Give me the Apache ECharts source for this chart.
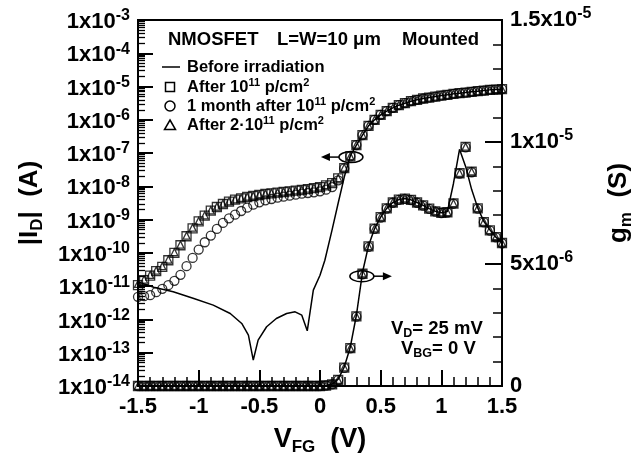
<!DOCTYPE html>
<html><head><meta charset="utf-8">
<script src="https://cdn.jsdelivr.net/npm/echarts@6/dist/echarts.min.js"></script>
<style>html,body{margin:0;padding:0;background:#fff}#c{width:639px;height:454px}</style>
</head><body><div id="c"></div>
<script>
// ---------- DATA ----------
// Front-gate voltage grid of the measured points (V)
const vfg = [-1.5,-1.45,-1.4,-1.35,-1.3,-1.25,-1.2,-1.15,-1.1,-1.05,-1,-0.95,-0.9,-0.85,-0.8,-0.75,-0.7,-0.65,-0.6,-0.55,-0.5,-0.45,-0.4,-0.35,-0.3,-0.25,-0.2,-0.15,-0.1,-0.05,0,0.05,0.1,0.15,0.2,0.25,0.3,0.35,0.4,0.45,0.5,0.55,0.6,0.65,0.7,0.75,0.8,0.85,0.9,0.95,1,1.05,1.1,1.15,1.2,1.25,1.3,1.35,1.4,1.45,1.5];

// log10(|ID| / A)
const idAfter1 = [-10.97,-10.82,-10.68,-10.55,-10.42,-10.22,-10.00,-9.77,-9.50,-9.26,-9.05,-8.88,-8.73,-8.62,-8.53,-8.46,-8.40,-8.36,-8.32,-8.29,-8.26,-8.23,-8.21,-8.19,-8.17,-8.15,-8.13,-8.11,-8.08,-8.05,-8.02,-7.97,-7.90,-7.76,-7.45,-7.10,-6.76,-6.46,-6.18,-6.00,-5.85,-5.74,-5.64,-5.56,-5.50,-5.44,-5.40,-5.36,-5.33,-5.30,-5.27,-5.25,-5.22,-5.20,-5.18,-5.16,-5.14,-5.12,-5.10,-5.09,-5.08];
const idMonth = [-11.32,-11.30,-11.27,-11.18,-11.08,-10.97,-10.84,-10.66,-10.40,-10.15,-9.90,-9.68,-9.48,-9.28,-9.10,-8.96,-8.85,-8.74,-8.64,-8.55,-8.48,-8.42,-8.38,-8.34,-8.31,-8.28,-8.25,-8.22,-8.20,-8.18,-8.15,-8.10,-8.02,-7.82,-7.46,-7.10,-6.76,-6.46,-6.18,-6.00,-5.85,-5.74,-5.64,-5.56,-5.50,-5.44,-5.40,-5.36,-5.33,-5.30,-5.27,-5.25,-5.22,-5.20,-5.18,-5.16,-5.14,-5.12,-5.10,-5.09,-5.08];
const idAfter2 = [-10.93,-10.80,-10.66,-10.53,-10.40,-10.20,-9.98,-9.75,-9.48,-9.24,-9.04,-8.87,-8.72,-8.61,-8.52,-8.45,-8.39,-8.35,-8.31,-8.28,-8.25,-8.22,-8.20,-8.18,-8.16,-8.14,-8.12,-8.10,-8.07,-8.04,-8.01,-7.96,-7.89,-7.75,-7.44,-7.09,-6.75,-6.45,-6.17,-6.00,-5.85,-5.74,-5.64,-5.56,-5.50,-5.44,-5.40,-5.36,-5.33,-5.30,-5.27,-5.25,-5.22,-5.20,-5.18,-5.16,-5.14,-5.12,-5.10,-5.09,-5.08];

// Before irradiation |ID| (continuous line)
const vfgBefore = [-1.5,-1.37,-1.21,-1.04,-0.88,-0.74,-0.645,-0.59,-0.55,-0.51,-0.44,-0.36,-0.275,-0.205,-0.15,-0.105,-0.055,0,0.04,0.1,0.15,0.2,0.25,0.3,0.35,0.4,0.45,0.5,0.55,0.6,0.65,0.7,0.75,0.8,0.85,0.9,0.95,1,1.05,1.1,1.15,1.2,1.25,1.3,1.35,1.4,1.45,1.5];
const idBefore = [-10.87,-11.03,-11.17,-11.37,-11.57,-11.82,-12.12,-12.47,-13.22,-12.62,-12.22,-11.97,-11.82,-11.77,-11.87,-12.34,-11.12,-10.67,-10.22,-9.30,-8.50,-7.72,-7.08,-6.76,-6.46,-6.18,-6.00,-5.85,-5.74,-5.64,-5.56,-5.50,-5.44,-5.40,-5.36,-5.33,-5.30,-5.27,-5.25,-5.22,-5.20,-5.18,-5.16,-5.14,-5.12,-5.10,-5.09,-5.08];

// gm in units of 1e-6 S
const gmBefore = [0,0,0,0,0,0,0,0,0,0,0,0,0,0,0,0,0,0,0,0,0,0,0,0,0,0,0,0,0,0,0,0.02,0.08,0.28,0.78,1.6,2.9,4.65,5.75,6.45,6.92,7.28,7.52,7.64,7.68,7.63,7.52,7.40,7.27,7.16,7.10,7.15,8.30,9.70,9.00,8.05,7.30,6.75,6.40,6.10,5.86];
const gmAfter1 = [0,0,0,0,0,0,0,0,0,0,0,0,0,0,0,0,0,0,0,0,0,0,0,0,0,0,0,0,0,0,0,0.02,0.07,0.25,0.75,1.55,2.85,4.60,5.72,6.45,6.92,7.28,7.52,7.64,7.68,7.63,7.52,7.40,7.27,7.16,7.10,7.12,7.48,8.72,9.80,8.78,7.28,6.72,6.38,6.10,5.86];
const gmMonth = [0,0,0,0,0,0,0,0,0,0,0,0,0,0,0,0,0,0,0,0,0,0,0,0,0,0,0,0,0,0,0,0.02,0.07,0.24,0.74,1.54,2.84,4.58,5.70,6.44,6.90,7.27,7.51,7.63,7.67,7.62,7.51,7.39,7.26,7.15,7.09,7.11,7.47,8.70,9.78,8.76,7.27,6.71,6.37,6.09,5.85];
const gmAfter2 = [0,0,0,0,0,0,0,0,0,0,0,0,0,0,0,0,0,0,0,0,0,0,0,0,0,0,0,0,0,0,0,0.02,0.07,0.25,0.76,1.56,2.86,4.61,5.73,6.46,6.93,7.29,7.53,7.65,7.69,7.64,7.53,7.41,7.28,7.17,7.11,7.13,7.49,8.73,9.81,8.79,7.29,6.73,6.39,6.11,5.87];

// Axis tick labels
const leftExps = [-14,-13,-12,-11,-10,-9,-8,-7,-6,-5,-4,-3];
const rightTickLabels = {0:'0', 5:['5x10','-6'], 10:['1x10','-5'], 15:['1.5x10','-5']};

// ---------- CHART ----------
const FONT = '"Liberation Sans", Arial, Helvetica, sans-serif';
const pairs = (xs, ys) => xs.map((x, i) => [x, ys[i]]);
const minorLog = [];
for (let n = -14; n < -3; n++) for (let k = 2; k <= 9; k++) minorLog.push(n + Math.log10(k));

const supRich = (main, sup) => ({
  b: {fontSize: main, fontWeight: 'bold', fontFamily: FONT, color: '#000', lineHeight: 28},
  s: {fontSize: sup, fontWeight: 'bold', fontFamily: FONT, color: '#000', verticalAlign: 'top', lineHeight: sup}
});
const nameStyle = (size, sub) => ({
  fontSize: size, fontWeight: 'bold', fontFamily: FONT, color: '#000', lineHeight: size + 6,
  rich: {sub: {fontSize: sub, fontWeight: 'bold', fontFamily: FONT, color: '#000', verticalAlign: 'bottom', lineHeight: sub}}
});

const hollow = {color: 'rgba(255,255,255,0)', borderColor: '#000', borderWidth: 1.3};
const G = {left: 138, right: 137, top: 20, bottom: 68, outerBoundsMode: 'none', containLabel: false};

const chart = echarts.init(document.getElementById('c'));
chart.setOption({
  animation: false,
  backgroundColor: '#fff',
  grid: [Object.assign({show: true, borderColor: '#000', borderWidth: 2, backgroundColor: 'transparent'}, G), Object.assign({}, G)],
  xAxis: [{
    gridIndex: 0, type: 'value', min: -1.5, max: 1.5, interval: 0.5,
    axisLine: {show: true, onZero: false, lineStyle: {color: '#000', width: 2}},
    axisTick: {show: true, inside: true, length: 16, lineStyle: {color: '#000', width: 2}},
    minorTick: {show: true, splitNumber: 5, length: 9, lineStyle: {color: '#000', width: 1.5}},
    splitLine: {show: false},
    axisLabel: {margin: 10, color: '#000', fontSize: 22, fontWeight: 'bold', fontFamily: FONT},
    name: 'V{sub|FG}  (V)', nameLocation: 'middle', nameGap: 37, nameTextStyle: nameStyle(27, 17)
  }, {gridIndex: 1, type: 'value', min: -1.5, max: 1.5, show: false, axisLine: {onZero: false}}],
  yAxis: [{
    gridIndex: 0, type: 'value', min: -14, max: -3, interval: 1, position: 'left',
    axisLine: {show: true, onZero: false, lineStyle: {color: '#000', width: 2}},
    axisTick: {show: true, inside: true, length: 15, lineStyle: {color: '#000', width: 2}},
    splitLine: {show: false},
    axisLabel: {margin: 8, padding: [4, 0, 0, 0], formatter: v => '{b|1x10}{s|' + Math.round(v) + '}', rich: supRich(22, 16)},
    name: '|I{sub|D}|  (A)', nameLocation: 'middle', nameGap: 92, nameTextStyle: nameStyle(26, 17)
  }, {
    gridIndex: 0, type: 'value', min: 0, max: 15, interval: 5, position: 'right',
    axisLine: {show: true, onZero: false, lineStyle: {color: '#000', width: 2}},
    axisTick: {show: true, inside: true, length: 17, lineStyle: {color: '#000', width: 2}},
    minorTick: {show: true, splitNumber: 5, length: 9, lineStyle: {color: '#000', width: 1.5}},
    splitLine: {show: false},
    axisLabel: {margin: 8, formatter: v => {
      const t = rightTickLabels[Math.round(v)];
      return Array.isArray(t) ? '{b|' + t[0] + '}{s|' + t[1] + '}' : '{b|' + t + '}';
    }, rich: supRich(22, 16)},
    name: 'g{sub|m}  (S)', nameLocation: 'middle', nameGap: 92, nameTextStyle: nameStyle(26, 17)
  }, {
    gridIndex: 1, type: 'value', min: -14, max: -3, position: 'left',
    axisLine: {show: false, onZero: false}, axisLabel: {show: false}, splitLine: {show: false},
    axisTick: {show: true, inside: true, length: 7, customValues: minorLog, lineStyle: {color: '#000', width: 1.3}}
  }],
  series: [
    {name: 'Before irradiation', type: 'line', xAxisIndex: 0, yAxisIndex: 0, data: pairs(vfgBefore, idBefore), symbol: 'none', lineStyle: {color: '#000', width: 1.5}, z: 2},
    {name: 'Before irradiation gm', type: 'line', xAxisIndex: 0, yAxisIndex: 1, data: pairs(vfg, gmBefore), symbol: 'none', lineStyle: {color: '#000', width: 1.5}, z: 2},
    {name: '1 month after', type: 'scatter', xAxisIndex: 0, yAxisIndex: 0, data: pairs(vfg, idMonth), symbol: 'circle', symbolSize: 9, itemStyle: hollow, z: 3},
    {name: '1 month after gm', type: 'scatter', xAxisIndex: 0, yAxisIndex: 1, data: pairs(vfg, gmMonth), symbol: 'circle', symbolSize: 9, itemStyle: hollow, z: 3},
    {name: 'After 1e11', type: 'scatter', xAxisIndex: 0, yAxisIndex: 0, data: pairs(vfg, idAfter1), symbol: 'rect', symbolSize: 9, itemStyle: hollow, z: 4},
    {name: 'After 1e11 gm', type: 'scatter', xAxisIndex: 0, yAxisIndex: 1, data: pairs(vfg, gmAfter1), symbol: 'rect', symbolSize: 9, itemStyle: hollow, z: 4},
    {name: 'After 2e11', type: 'scatter', xAxisIndex: 0, yAxisIndex: 0, data: pairs(vfg, idAfter2), symbol: 'triangle', symbolSize: 7, itemStyle: hollow, z: 5},
    {name: 'After 2e11 gm', type: 'scatter', xAxisIndex: 0, yAxisIndex: 1, data: pairs(vfg, gmAfter2), symbol: 'triangle', symbolSize: 7, itemStyle: hollow, z: 5}
  ]
});

// ---------- ANNOTATIONS ----------
const txt = (x, y, text, size, rich) => ({
  type: 'text', x: x, y: y, z: 10,
  style: {text: text, fill: '#000', fontSize: size, fontWeight: 'bold', fontFamily: FONT, align: 'left', verticalAlign: 'middle', rich: rich || {}}
});
const legRich = {s: {fontSize: 11, fontWeight: 'bold', fontFamily: FONT, fill: '#000', verticalAlign: 'top', lineHeight: 11}, n: {fontSize: 16.5, fontWeight: 'bold', fontFamily: FONT, fill: '#000', lineHeight: 19}};
const subRich = {d: {fontSize: 12.5, fontWeight: 'bold', fontFamily: FONT, fill: '#000', verticalAlign: 'bottom', lineHeight: 12}, n: {fontSize: 18.5, fontWeight: 'bold', fontFamily: FONT, fill: '#000', lineHeight: 23}};

const idArrowAnchor = [0.255, -7.12];   // ellipse around ID curve
const gmArrowAnchor = [0.345, 4.5];     // ellipse around gm curve
const p1 = chart.convertToPixel({xAxisIndex: 0, yAxisIndex: 0}, idArrowAnchor);
const p2 = chart.convertToPixel({xAxisIndex: 0, yAxisIndex: 1}, gmArrowAnchor);
const stroke = {fill: 'none', stroke: '#000', lineWidth: 1.5};

chart.setOption({graphic: [
  txt(168, 40, 'NMOSFET', 18.5), txt(277, 40, 'L=W=10 μm', 18.5), txt(402, 40, 'Mounted', 18.5),
  {type: 'line', shape: {x1: 162, y1: 67, x2: 180, y2: 67}, style: {stroke: '#000', lineWidth: 1.5}, z: 10},
  txt(187, 67, '{n|Before irradiation}', 16.5, legRich),
  {type: 'rect', shape: {x: 165.5, y: 82.5, width: 9, height: 9}, style: stroke, z: 10},
  txt(187, 87, '{n|After 10}{s|11}{n| p/cm}{s|2}', 16.5, legRich),
  {type: 'circle', shape: {cx: 170, cy: 106, r: 5}, style: stroke, z: 10},
  txt(187, 106, '{n|1 month after 10}{s|11}{n| p/cm}{s|2}', 16.5, legRich),
  {type: 'polygon', shape: {points: [[170, 120], [175.5, 129.5], [164.5, 129.5]]}, style: stroke, z: 10},
  txt(187, 125, '{n|After 2·10}{s|11}{n| p/cm}{s|2}', 16.5, legRich),
  txt(391, 329, '{n|V}{d|D}{n|= 25 mV}', 18.5, subRich),
  txt(401, 349, '{n|V}{d|BG}{n|= 0 V}', 18.5, subRich),
  {type: 'ellipse', shape: {cx: p1[0], cy: p1[1], rx: 12, ry: 5.5}, style: stroke, z: 10},
  {type: 'line', shape: {x1: p1[0] - 12, y1: p1[1], x2: p1[0] - 22, y2: p1[1]}, style: {stroke: '#000', lineWidth: 1.5}, z: 10},
  {type: 'polygon', shape: {points: [[p1[0] - 30, p1[1]], [p1[0] - 21, p1[1] - 4], [p1[0] - 21, p1[1] + 4]]}, style: {fill: '#000'}, z: 10},
  {type: 'ellipse', shape: {cx: p2[0], cy: p2[1], rx: 12, ry: 5.5}, style: stroke, z: 10},
  {type: 'line', shape: {x1: p2[0] + 12, y1: p2[1], x2: p2[0] + 22, y2: p2[1]}, style: {stroke: '#000', lineWidth: 1.5}, z: 10},
  {type: 'polygon', shape: {points: [[p2[0] + 30, p2[1]], [p2[0] + 21, p2[1] - 4], [p2[0] + 21, p2[1] + 4]]}, style: {fill: '#000'}, z: 10}
]});
</script></body></html>
